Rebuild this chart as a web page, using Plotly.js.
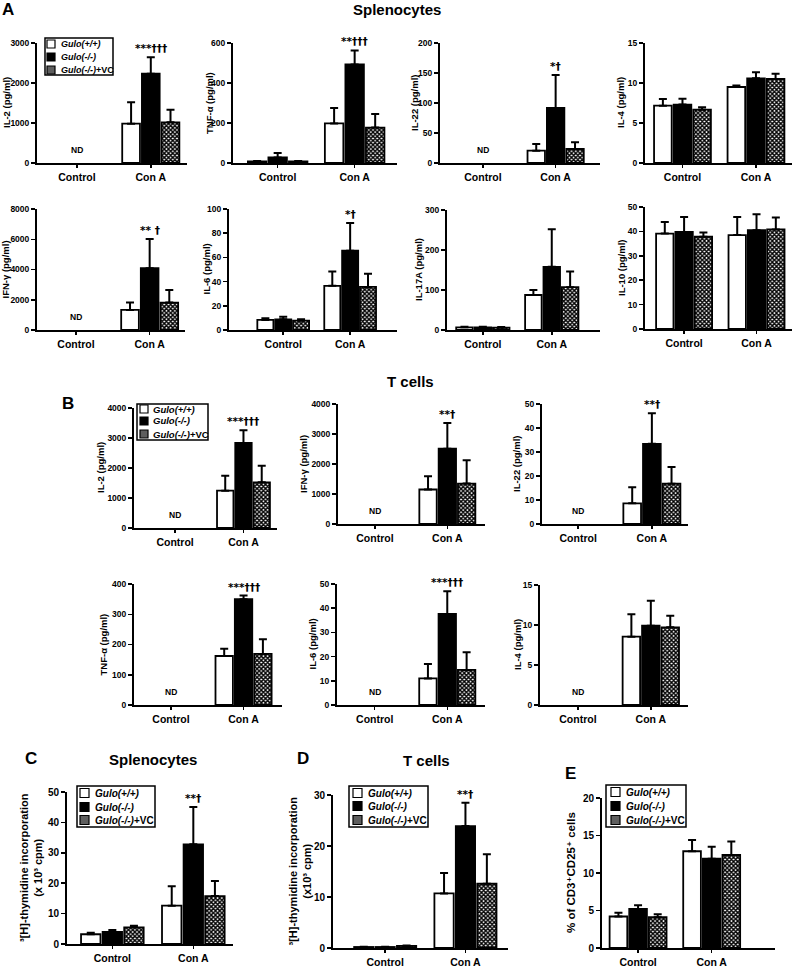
<!DOCTYPE html>
<html>
<head>
<meta charset="utf-8">
<script src="https://cdn.plot.ly/plotly-3.0.1.min.js"></script>
<style>html,body{margin:0;padding:0;background:#fff;}#chart{width:795px;height:968px;}</style>
</head>
<body>
<div id="chart"></div>
<script>
// ---------------- DATA ----------------
const groups = ['Control', 'Con A'];
const seriesNames = ['<i>Gulo(+/+)</i>', '<i>Gulo(-/-)</i>', '<i>Gulo(-/-)</i>+VC'];

// rows: Gulo(+/+), Gulo(-/-), Gulo(-/-)+VC ; columns: Control, Con A (null = ND)
// A. Splenocytes
const splIL2 = [[null, 983], [null, 2233], [null, 1017]];
const splIL2Sem = [[0, 534], [0, 409], [0, 316]];
const splTNF = [[8, 198], [28, 493], [8, 177]];
const splTNFSem = [[2, 77], [22, 70], [2, 68]];
const splIL22 = [[null, 20.6], [null, 91.7], [null, 23.3]];
const splIL22Sem = [[0, 11.1], [0, 55], [0, 11.1]];
const splIL4 = [[7.17, 9.5], [7.3, 10.58], [6.67, 10.5]];
const splIL4Sem = [[0.83, 0.2], [0.74, 0.75], [0.29, 0.67]];
const splIFN = [[null, 1326], [null, 4088], [null, 1812]];
const splIFNSem = [[0, 486], [0, 1923], [0, 840]];
const splIL6 = [[8.3, 36.5], [8.8, 65.5], [7.7, 35.6]];
const splIL6Sem = [[1.4, 11.8], [2.2, 22.9], [1.1, 10.8]];
const splIL17 = [[6.7, 87.5], [6.7, 158], [5.8, 107]];
const splIL17Sem = [[1.3, 12.5], [1.3, 94], [1.7, 39]];
const splIL10 = [[39.1, 38.5], [39.8, 40.5], [37.8, 40.8]];
const splIL10Sem = [[4.8, 7.4], [6.1, 6.5], [1.7, 4.9]];
// B. T cells
const tIL2 = [[null, 1244], [null, 2833], [null, 1522]];
const tIL2Sem = [[0, 500], [0, 423], [0, 556]];
const tIFN = [[null, 1150], [null, 2508], [null, 1348]];
const tIFNSem = [[0, 440], [0, 862], [0, 774]];
const tIL22 = [[null, 8.6], [null, 33.4], [null, 16.8]];
const tIL22Sem = [[0, 6.7], [0, 12.7], [0, 7]];
const tTNF = [[null, 162], [null, 350], [null, 169]];
const tTNFSem = [[0, 24], [0, 12], [0, 48]];
const tIL6 = [[null, 11], [null, 37.6], [null, 14.5]];
const tIL6Sem = [[0, 5.9], [0, 9.4], [0, 7.3]];
const tIL4 = [[null, 8.54], [null, 9.92], [null, 9.71]];
const tIL4Sem = [[0, 2.79], [0, 3.12], [0, 1.46]];
// C. Splenocyte proliferation, D. T-cell proliferation, E. % CD3+CD25+
const splProlif = [[3.2, 12.6], [4.0, 32.8], [5.5, 15.75]];
const splProlifSem = [[0.5, 6.4], [0.6, 12.3], [0.5, 4.95]];
const tProlif = [[0.2, 10.7], [0.2, 23.9], [0.4, 12.6]];
const tProlifSem = [[0.05, 4.0], [0.05, 4.6], [0.1, 5.8]];
const cd25 = [[4.2, 12.9], [5.2, 11.9], [4.1, 12.4]];
const cd25Sem = [[0.5, 1.5], [0.5, 1.6], [0.4, 1.8]];

// ---------------- LAYOUT CONFIG ----------------
const W = 795, H = 968;
const fx = p => p / W;
const fy = p => 1 - p / H;
const FONT = 'Liberation Sans, Arial, Helvetica, DejaVu Sans, sans-serif';
const SIGFONT = 'DejaVu Sans, Liberation Sans, sans-serif';

const legA = {box: [45, 38, 113, 75], rows: [44, 57, 70], sw: [47, 8], tx: 59, fs: 9};
const legB = {box: [137, 404, 208, 440], rows: [409, 421, 434], sw: [140, 8], tx: 151, fs: 9.5};
const legC = {box: [77, 786, 155, 827], rows: [793, 807, 820], sw: [80, 9], tx: 93, fs: 10};
const legD = {box: [349, 786, 428, 827], rows: [793, 806, 820], sw: [353, 9], tx: 366, fs: 10};
const legE = {box: [606, 785, 686, 827], rows: [792, 806, 820], sw: [611, 9], tx: 624, fs: 10};

const panels = [
  {m: splIL2, e: splIL2Sem, yt: 'IL-2 (pg/ml)', ymax: 3000, dt: 1000, px: [37, 187], py: [43, 163], xr: [-0.54, 1.49], tx: 6, sig: '***†††', nd: true, leg: legA},
  {m: splTNF, e: splTNFSem, yt: 'TNF-α (pg/ml)', ymax: 600, dt: 200, px: [233, 397], py: [43, 163], xr: [-0.58, 1.55], tx: 209, sig: '**†††'},
  {m: splIL22, e: splIL22Sem, yt: 'IL-22 (pg/ml)', ymax: 200, dt: 50, px: [440, 600], py: [43, 163], xr: [-0.59, 1.61], tx: 414, sig: '*†', nd: true},
  {m: splIL4, e: splIL4Sem, yt: 'IL-4 (pg/ml)', ymax: 15, dt: 5, px: [645, 792], py: [43, 163], xr: [-0.51, 1.49], tx: 620},
  {m: splIFN, e: splIFNSem, yt: 'IFN-γ (pg/ml)', ymax: 8000, dt: 2000, px: [37, 185], py: [209, 330], xr: [-0.53, 1.48], tx: 5, sig: '** †', nd: true},
  {m: splIL6, e: splIL6Sem, yt: 'IL-6 (pg/ml)', ymax: 100, dt: 20, px: [229, 397], py: [209, 330], xr: [-0.81, 1.70], tx: 206, sig: '*†'},
  {m: splIL17, e: splIL17Sem, yt: 'IL-17A (pg/ml)', ymax: 300, dt: 100, px: [447, 600], py: [210, 330], xr: [-0.52, 1.70], tx: 418},
  {m: splIL10, e: splIL10Sem, yt: 'IL-10 (pg/ml)', ymax: 50, dt: 10, px: [645, 792], py: [207, 329], xr: [-0.54, 1.49], tx: 621},
  {m: tIL2, e: tIL2Sem, yt: 'IL-2 (pg/ml)', ymax: 4000, dt: 1000, px: [134, 277], py: [408, 528], xr: [-0.6, 1.49], tx: 100, sig: '***†††', nd: true, leg: legB},
  {m: tIFN, e: tIFNSem, yt: 'IFN-γ (pg/ml)', ymax: 4000, dt: 1000, px: [338, 485], py: [404, 524], xr: [-0.51, 1.52], tx: 304, sig: '**†', nd: true},
  {m: tIL22, e: tIL22Sem, yt: 'IL-22 (pg/ml)', ymax: 50, dt: 10, px: [542, 688], py: [404, 524], xr: [-0.49, 1.49], tx: 517, sig: '**†', nd: true},
  {m: tTNF, e: tTNFSem, yt: 'TNF-α (pg/ml)', ymax: 400, dt: 100, px: [134, 282], py: [584, 705], xr: [-0.51, 1.53], tx: 103, sig: '***†††', nd: true},
  {m: tIL6, e: tIL6Sem, yt: 'IL-6 (pg/ml)', ymax: 50, dt: 10, px: [337, 485], py: [584, 705], xr: [-0.52, 1.52], tx: 312, sig: '***†††', nd: true},
  {m: tIL4, e: tIL4Sem, yt: 'IL-4 (pg/ml)', ymax: 15, dt: 5, px: [540, 688], py: [585, 705], xr: [-0.52, 1.51], tx: 517, nd: true},
  {m: splProlif, e: splProlifSem, yt: '³[H]-thymidine incorporation<br>(x 10³ cpm)', yfs: 11, ymax: 50, dt: 10, px: [67, 233], py: [792, 944], xr: [-0.56, 1.49], tx: 31, sig: '**†', leg: legC, tfs: 10},
  {m: tProlif, e: tProlifSem, yt: '³[H]-thymidine incorporation<br>(x10³ cpm)', yfs: 11, ymax: 30, dt: 10, px: [333, 508], py: [795, 948], xr: [-0.65, 1.53], tx: 299, sig: '**†', leg: legD, tfs: 10},
  {m: cd25, e: cd25Sem, yt: '% of CD3⁺CD25⁺ cells', yfs: 11.5, ymax: 20, dt: 5, px: [602, 775], py: [798, 948], xr: [-0.49, 1.86], tx: 571, leg: legE, tfs: 10}
];

const markerStyles = [
  {color: '#ffffff', line: {color: '#000', width: 1.8}},
  {color: '#000000', line: {color: '#000', width: 1.8}},
  {color: '#ffffff', line: {color: '#000', width: 1.8},
   pattern: {shape: 'x', fgcolor: '#000', bgcolor: '#fff', size: 3, solidity: 0.7}}
];
const swatchFill = ['#ffffff', '#000000', '#5e5e5e'];

const traces = [];
const layout = {
  width: W, height: H,
  margin: {l: 0, r: 0, t: 0, b: 0},
  paper_bgcolor: '#fff', plot_bgcolor: 'rgba(0,0,0,0)',
  font: {family: FONT, size: 10, color: '#000', weight: 'bold'},
  barmode: 'group', bargap: 0.2, bargroupgap: 0.1,
  showlegend: false,
  annotations: [], shapes: []
};

panels.forEach((p, i) => {
  const k = i === 0 ? '' : String(i + 1);
  const xa = 'x' + k, ya = 'y' + k;
  for (let s = 0; s < 3; s++) {
    traces.push({
      type: 'bar', x: groups, y: p.m[s], name: seriesNames[s],
      xaxis: xa, yaxis: ya, marker: markerStyles[s], hoverinfo: 'skip',
      error_y: {type: 'data', symmetric: false, array: p.e[s], arrayminus: p.e[s].map(() => 0),
                color: '#000', thickness: 2, width: 4}
    });
  }
  layout['xaxis' + k] = {
    domain: [fx(p.px[0]), fx(p.px[1])], anchor: ya, type: 'category', range: p.xr,
    showline: true, linewidth: 2, linecolor: '#000', ticks: 'outside', ticklen: 3, tickwidth: 1.5,
    tickcolor: '#000', showgrid: false, zeroline: false, fixedrange: true,
    tickfont: {family: FONT, size: 10.5, weight: 'bold', color: '#000'}
  };
  layout['yaxis' + k] = {
    domain: [fy(p.py[1]), fy(p.py[0])], anchor: xa, range: [0, p.ymax], tick0: 0, dtick: p.dt,
    showline: true, linewidth: 2, linecolor: '#000', ticks: 'outside', ticklen: 4, tickwidth: 1.5,
    tickcolor: '#000', showgrid: false, zeroline: false, fixedrange: true,
    tickfont: {family: FONT, size: p.tfs || 8.5, weight: 'bold', color: '#000'}
  };
  // y-axis title
  layout.annotations.push({
    xref: 'paper', yref: 'paper', x: fx(p.tx), y: fy((p.py[0] + p.py[1]) / 2),
    text: p.yt, textangle: -90, showarrow: false, xanchor: 'center', yanchor: 'middle',
    font: {family: FONT, size: p.yfs || 9.5, weight: 'bold', color: '#000'}
  });
  if (p.sig) {
    layout.annotations.push({
      xref: xa, yref: ya, x: 1, y: p.m[1][1] + p.e[1][1], text: p.sig, showarrow: false,
      yanchor: 'bottom', yshift: 1, font: {family: SIGFONT, size: 10.5, weight: 'bold', color: '#000000'}
    });
  }
  if (p.nd) {
    layout.annotations.push({
      xref: xa, yref: ya, x: 0, y: 0, text: 'ND', showarrow: false,
      yanchor: 'bottom', yshift: 6, font: {family: FONT, size: 8.5, weight: 'bold', color: '#000'}
    });
  }
  if (p.leg) {
    const L = p.leg;
    layout.shapes.push({type: 'rect', xref: 'paper', yref: 'paper',
      x0: fx(L.box[0]), x1: fx(L.box[2]), y0: fy(L.box[3]), y1: fy(L.box[1]),
      line: {color: '#000', width: 1.5}, fillcolor: '#fff'});
    L.rows.forEach((ry, s) => {
      layout.shapes.push({type: 'rect', xref: 'paper', yref: 'paper',
        x0: fx(L.sw[0]), x1: fx(L.sw[0] + L.sw[1]), y0: fy(ry + L.sw[1] / 2), y1: fy(ry - L.sw[1] / 2),
        line: {color: '#000', width: 1.2}, fillcolor: swatchFill[s]});
      layout.annotations.push({xref: 'paper', yref: 'paper', x: fx(L.tx), y: fy(ry),
        text: seriesNames[s], showarrow: false, xanchor: 'left', yanchor: 'middle',
        font: {family: FONT, size: L.fs, weight: 'bold', color: '#000'}});
    });
  }
});

// panel letters and titles
const headings = [
  {t: 'A', x: 0, y: 9, a: 'left', s: 17},
  {t: 'Splenocytes', x: 397, y: 9, a: 'center', s: 15},
  {t: 'B', x: 60, y: 403, a: 'left', s: 17},
  {t: 'T cells', x: 410, y: 381, a: 'center', s: 15},
  {t: 'C', x: 23, y: 758, a: 'left', s: 17},
  {t: 'Splenocytes', x: 153, y: 759, a: 'center', s: 15},
  {t: 'D', x: 295, y: 758, a: 'left', s: 17},
  {t: 'T cells', x: 426, y: 760, a: 'center', s: 15},
  {t: 'E', x: 563, y: 773, a: 'left', s: 17}
];
headings.forEach(h => layout.annotations.push({
  xref: 'paper', yref: 'paper', x: fx(h.x), y: fy(h.y), text: h.t, showarrow: false,
  xanchor: h.a, yanchor: 'middle', font: {family: FONT, size: h.s, weight: 'bold', color: '#000'}
}));

Plotly.newPlot('chart', traces, layout, {staticPlot: true, displayModeBar: false});
</script>
</body>
</html>
